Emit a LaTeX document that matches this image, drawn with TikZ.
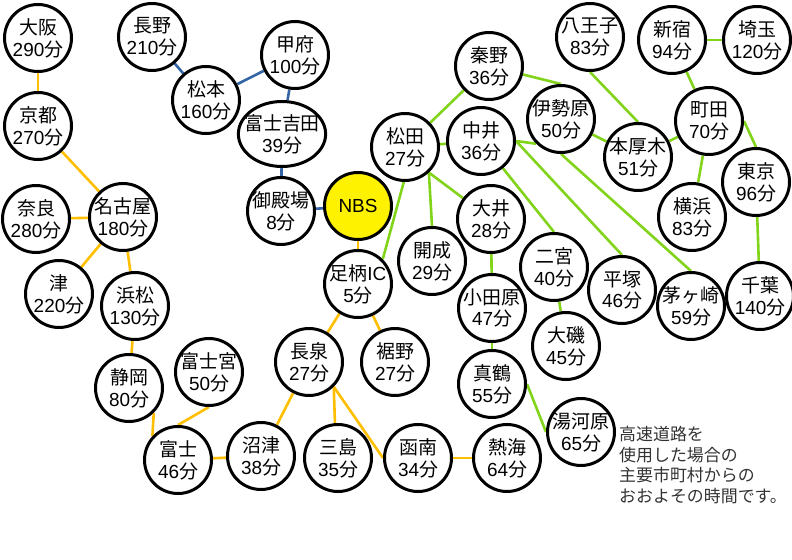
\documentclass[tikz,border=0pt]{standalone}
\usepackage{fontspec}
\setmainfont{Liberation Sans}
\newfontfamily\cjk{Noto Sans CJK JP}
\usetikzlibrary{shapes.geometric,backgrounds}
\definecolor{eblue}{HTML}{3465A4}
\definecolor{eorange}{HTML}{FFBF00}
\definecolor{egreen}{HTML}{81D41A}
\definecolor{captxt}{HTML}{333333}
\newcommand\tn[2]{{\cjk #1}\\#2{\cjk 分}}
\begin{document}
\begin{tikzpicture}[x=1bp,y=-1bp,
  city/.style={circle,draw=black,line width=3bp,fill=white,minimum size=67bp,inner sep=-7bp,align=center,font=\fontsize{19}{22}\selectfont},
  bl/.style={draw=eblue,line width=2.6bp},
  og/.style={draw=eorange,line width=2.6bp},
  gr/.style={draw=egreen,line width=2.6bp}]
\useasboundingbox (0,0) rectangle (792,560);
% nodes
\node[city] (osaka) at (38,38) {\tn{大阪}{290}};
\node[city] (kyoto) at (38,126) {\tn{京都}{270}};
\node[city] (nara) at (36,219) {\tn{奈良}{280}};
\node[city] (nagoya) at (123,217) {\tn{名古屋}{180}};
\node[city] (tsu) at (59,294) {\tn{津}{220}};
\node[city] (hamamatsu) at (135,306) {\tn{浜松}{130}};
\node[city] (shizuoka) at (129,388) {\tn{静岡}{80}};
\node[city] (fujinomiya) at (209,372) {\tn{富士宮}{50}};
\node[city] (fuji) at (178,460) {\tn{富士}{46}};
\node[city] (numazu) at (261,456) {\tn{沼津}{38}};
\node[city] (nagaizumi) at (309,362) {\tn{長泉}{27}};
\node[city] (mishima) at (338,458) {\tn{三島}{35}};
\node[city] (kannami) at (418,458) {\tn{函南}{34}};
\node[city] (atami) at (507,458) {\tn{熱海}{64}};
\node[city] (susono) at (395,362) {\tn{裾野}{27}};
\node[city] (ashigara) at (358,284) {{\cjk 足柄}IC\\5{\cjk 分}};
\node[city,fill=yellow] (nbs) at (358,206) {NBS};
\node[city] (gotemba) at (281,211) {\tn{御殿場}{8}};
\node[city,ellipse,minimum width=87bp,minimum height=65bp] (fujiyoshida) at (282,134) {\tn{富士吉田}{39}};
\node[city] (kofu) at (295,55) {\tn{甲府}{100}};
\node[city] (matsumoto) at (206,100) {\tn{松本}{160}};
\node[city] (nagano) at (152,37) {\tn{長野}{210}};
\node[city] (matsuda) at (405,147) {\tn{松田}{27}};
\node[city] (hadano) at (489,66) {\tn{秦野}{36}};
\node[city] (nakai) at (481,141) {\tn{中井}{36}};
\node[city] (isehara) at (561,119) {\tn{伊勢原}{50}};
\node[city] (kaisei) at (432,261) {\tn{開成}{29}};
\node[city] (oi) at (491,219) {\tn{大井}{28}};
\node[city] (ninomiya) at (554,267) {\tn{二宮}{40}};
\node[city] (odawara) at (492,308) {\tn{小田原}{47}};
\node[city] (oiso) at (566,346) {\tn{大磯}{45}};
\node[city] (manazuru) at (492,384) {\tn{真鶴}{55}};
\node[city] (yugawara) at (581,432) {\tn{湯河原}{65}};
\node[city] (hiratsuka) at (622,290) {\tn{平塚}{46}};
\node[city] (chigasaki) at (691,306) {\tn{茅ヶ崎}{59}};
\node[city] (hachioji) at (590,37) {\tn{八王子}{83}};
\node[city] (honatsugi) at (638,157) {\tn{本厚木}{51}};
\node[city] (shinjuku) at (672,40) {\tn{新宿}{94}};
\node[city] (saitama) at (757,40) {\tn{埼玉}{120}};
\node[city] (machida) at (709,121) {\tn{町田}{70}};
\node[city] (yokohama) at (692,217) {\tn{横浜}{83}};
\node[city] (tokyo) at (756,182) {\tn{東京}{96}};
\node[city] (chiba) at (760,296) {\tn{千葉}{140}};
\node[anchor=north west,inner sep=0pt,align=left,text=captxt,font=\cjk\fontsize{17}{20.7}\selectfont] (cap) at (619,426) {高速道路を\\使用した場合の\\主要市町村からの\\おおよその時間です。};
% edges
\begin{scope}[on background layer]
\fill[white] (0,0) rectangle (792,560);
\draw[bl] (nagano) -- (matsumoto);
\draw[bl] (matsumoto) -- (kofu);
\draw[bl] (kofu) -- (fujiyoshida);
\draw[bl] (fujiyoshida) -- (gotemba);
\draw[bl] (gotemba) -- (nbs);
\draw[og] (osaka) -- (kyoto);
\draw[og] (kyoto) -- (nagoya);
\draw[og] (nara) -- (nagoya);
\draw[og] (nagoya) -- (tsu);
\draw[og] (nagoya) -- (hamamatsu);
\draw[og] (hamamatsu) -- (shizuoka);
\draw[og] (shizuoka.-45) -- (fuji.137);
\draw[og] (fujinomiya.south) -- (fuji.north);
\draw[og] (fuji) -- (numazu);
\draw[og] (numazu) -- (nagaizumi);
\draw[og] (nagaizumi) -- (ashigara);
\draw[og] (ashigara) -- (susono);
\draw[og] (nbs) -- (ashigara);
\draw[og] (nagaizumi.-45) -- (mishima.95);
\draw[og] (nagaizumi.-45) -- (kannami.180);
\draw[og] (kannami) -- (atami);
\draw[gr] (ashigara.45) -- (matsuda.-92);
\draw[gr] (matsuda) -- (hadano);
\draw[gr] (matsuda) -- (nakai);
\draw[gr] (matsuda.-47) -- (kaisei.north);
\draw[gr] (matsuda.-47) -- (oi);
\draw[gr] (hadano) -- (isehara.north);
\draw[gr] (isehara) -- (honatsugi);
\draw[gr] (hachioji.south) -- (honatsugi.north);
\draw[gr] (nakai.east) -- (isehara.-135);
\draw[gr] (isehara.south) -- (chigasaki.north);
\draw[gr] (nakai.east) -- (hiratsuka.north);
\draw[gr] (nakai) -- (ninomiya.north);
\draw[gr] (oi) -- (odawara);
\draw[gr] (odawara) -- (manazuru);
\draw[gr] (manazuru.east) -- (yugawara.west);
\draw[gr] (ninomiya) -- (oiso);
\draw[gr] (honatsugi) -- (machida);
\draw[gr] (shinjuku) -- (machida);
\draw[gr] (shinjuku) -- (saitama);
\draw[gr] (machida) -- (yokohama);
\draw[gr] (machida.east) -- (tokyo.north);
\draw[gr] (tokyo) -- (chiba);
\end{scope}
\end{tikzpicture}
\end{document}
